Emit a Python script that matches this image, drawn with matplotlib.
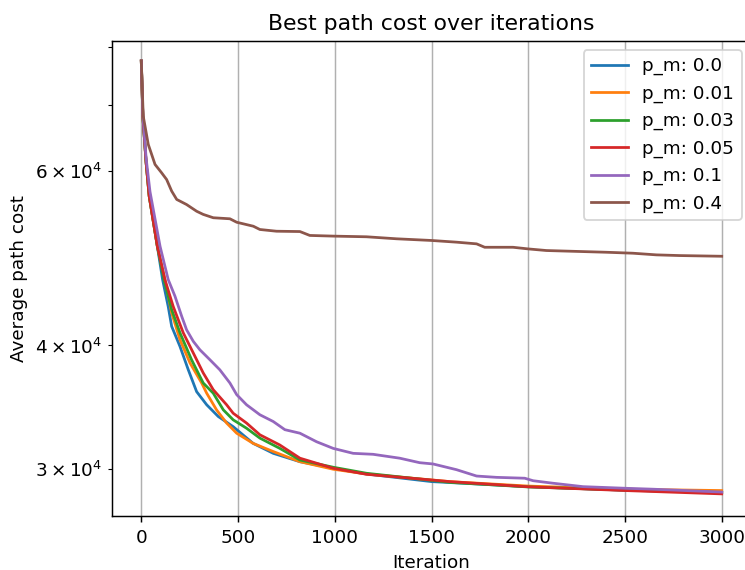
import matplotlib
matplotlib.use('Agg')
import matplotlib.pyplot as plt

# mutation rates
labels = ["p_m: 0.0", "p_m: 0.01", "p_m: 0.03", "p_m: 0.05", "p_m: 0.1", "p_m: 0.4"]

# values (iteration, cost)
it_00 = [0, 8, 25, 41, 83, 110, 139, 157, 200, 243, 286, 338, 398, 475, 578, 682, 820, 992, 1164, 1500, 2000, 2500, 3000]
cost_00 = [77500, 68190, 61180, 56590, 50370, 46630, 43800, 41820, 39910, 37800, 35930, 34850, 33910, 33120, 31860, 31130, 30530, 30070, 29670, 29150, 28810, 28570, 28420]

it_01 = [0, 8, 25, 41, 83, 122, 157, 200, 252, 312, 338, 389, 441, 493, 578, 682, 820, 992, 1164, 1594, 2000, 2500, 3000]
cost_01 = [77500, 68190, 61180, 56590, 50370, 46630, 43150, 40540, 38400, 36660, 35800, 34440, 33400, 32620, 31860, 31260, 30530, 30000, 29670, 29150, 28850, 28640, 28550]

it_03 = [0, 8, 25, 41, 83, 117, 157, 200, 260, 320, 372, 424, 475, 544, 613, 716, 820, 992, 1164, 1594, 2000, 2500, 3000]
cost_03 = [77500, 68190, 61180, 56590, 50370, 46630, 43480, 41190, 38690, 36660, 35800, 34440, 33650, 33000, 32250, 31490, 30650, 30140, 29720, 29100, 28790, 28580, 28420]

it_05 = [0, 8, 25, 41, 83, 122, 165, 217, 269, 320, 372, 441, 475, 544, 613, 716, 820, 992, 1164, 1594, 2000, 2500, 3000]
cost_05 = [77500, 68190, 61180, 56590, 50370, 46630, 43800, 41190, 39300, 37530, 36090, 34850, 34170, 33400, 32500, 31740, 30780, 30070, 29650, 29150, 28800, 28550, 28330]

it_10 = [0, 8, 25, 45, 97, 139, 174, 209, 234, 269, 303, 355, 406, 458, 493, 544, 613, 682, 742, 820, 906, 992, 1095, 1198, 1336, 1439, 1508, 1629, 1733, 1836, 1982, 2025, 2128, 2283, 2507, 2645, 3000]
cost_10 = [77500, 68500, 61800, 57200, 50370, 46630, 44860, 42800, 41490, 40380, 39600, 38690, 37800, 36660, 35680, 34850, 34050, 33520, 32890, 32620, 31980, 31490, 31130, 31060, 30780, 30460, 30370, 29970, 29530, 29440, 29380, 29210, 29040, 28810, 28700, 28640, 28450]

it_40 = [0, 10, 36, 71, 105, 131, 157, 183, 234, 286, 320, 372, 458, 493, 579, 613, 699, 820, 871, 992, 1164, 1319, 1500, 1629, 1733, 1775, 1921, 1999, 2094, 2404, 2541, 2662, 2782, 3000]
cost_40 = [77500, 68190, 63840, 60930, 59760, 58830, 57270, 56170, 55510, 54650, 54250, 53830, 53700, 53270, 52780, 52380, 52170, 52130, 51660, 51580, 51500, 51260, 51060, 50860, 50660, 50260, 50260, 50070, 49880, 49680, 49570, 49380, 49300, 49220]

iters = [it_00, it_01, it_03, it_05, it_10, it_40]
costs = [cost_00, cost_01, cost_03, cost_05, cost_10, cost_40]

DPI = 132
fig = plt.figure(figsize=(745 / DPI, 570 / DPI), dpi=DPI)
ax = fig.add_axes([0.1507, 0.0953, 0.857, 0.8333])

for x, y, lab in zip(iters, costs, labels):
    ax.plot(x, y, label=lab)

ax.set_yscale('log')
ax.set_xlim(-150, 3150)
ax.set_ylim(26930, 81240)
ax.grid(axis='x')

ax.set_title("Best path cost over iterations")
ax.set_xlabel("Iteration")
ax.set_ylabel("Average path cost")
ax.legend(loc='upper right')

plt.savefig("out.png", dpi=DPI)
plt.close()
